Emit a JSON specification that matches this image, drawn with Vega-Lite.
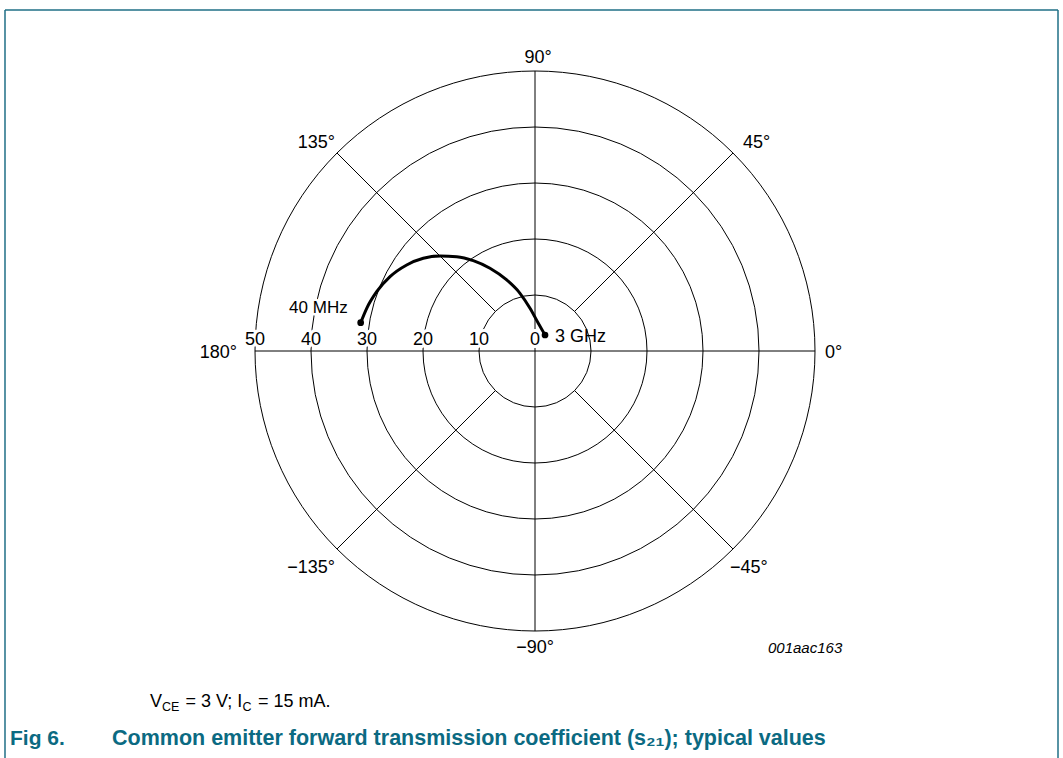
{
  "$schema": "https://vega.github.io/schema/vega-lite/v6.json",
  "width": 1063,
  "height": 758,
  "padding": 0,
  "autosize": {"type": "none"},
  "background": "white",
  "config": {"view": {"stroke": null}, "text": {"font": "Liberation Sans", "fontSize": 18, "color": "black"}},
  "datasets": {
    "one": [{}],
    "rings": [{"r": 10}, {"r": 20}, {"r": 30}, {"r": 40}, {"r": 50}],
    "spokes": [
      {"x": -50, "y": 0, "x2": 50, "y2": 0},
      {"x": 0, "y": -50, "x2": 0, "y2": 50},
      {"x": 7.0711, "y": 7.0711, "x2": 35.3553, "y2": 35.3553},
      {"x": -7.0711, "y": 7.0711, "x2": -35.3553, "y2": 35.3553},
      {"x": 7.0711, "y": -7.0711, "x2": 35.3553, "y2": -35.3553},
      {"x": -7.0711, "y": -7.0711, "x2": -35.3553, "y2": -35.3553}
    ],
    "angles": [
      {"ang": 0, "label": "0°"}, {"ang": 45, "label": "45°"}, {"ang": 90, "label": "90°"},
      {"ang": 135, "label": "135°"}, {"ang": 180, "label": "180°"}, {"ang": -135, "label": "−135°"},
      {"ang": -90, "label": "−90°"}, {"ang": -45, "label": "−45°"}
    ],
    "mags": [{"m": 0}, {"m": 10}, {"m": 20}, {"m": 30}, {"m": 40}, {"m": 50}],
    "s21": [
      {"re": -31.13, "im": 5.05, "f": "40 MHz"},
      {"re": -30.05, "im": 7.63},
      {"re": -28.27, "im": 10.59},
      {"re": -25.89, "im": 13.27},
      {"re": -22.91, "im": 15.36},
      {"re": -19.95, "im": 16.55},
      {"re": -16.96, "im": 16.96},
      {"re": -13.98, "im": 16.84},
      {"re": -11.02, "im": 16.13},
      {"re": -8.04, "im": 14.77},
      {"re": -5.05, "im": 12.68},
      {"re": -2.68, "im": 10.30},
      {"re": -0.89, "im": 7.63},
      {"re": 0.59, "im": 4.95},
      {"re": 1.79, "im": 2.86, "f": "3 GHz"}
    ]
  },
  "layer": [
    {
      "data": {"name": "rings"},
      "mark": {"type": "arc", "theta": 0, "theta2": 6.2832, "fillOpacity": 0, "stroke": "black", "strokeWidth": 1},
      "encoding": {
        "radius": {"field": "r", "type": "quantitative", "stack": null, "scale": {"type": "linear", "domain": [0, 50], "range": [0, 280], "zero": true, "nice": false}},
        "x": {"datum": 0, "type": "quantitative", "scale": {"domain": [-95.5357, 94.2857], "nice": false, "zero": false}, "axis": null},
        "y": {"datum": 0, "type": "quantitative", "scale": {"domain": [-72.6786, 62.6786], "nice": false, "zero": false}, "axis": null}
      }
    },
    {
      "data": {"name": "spokes"},
      "mark": {"type": "rule", "color": "black", "strokeWidth": 1},
      "encoding": {
        "x": {"field": "x", "type": "quantitative", "axis": null},
        "y": {"field": "y", "type": "quantitative", "axis": null},
        "x2": {"field": "x2"},
        "y2": {"field": "y2"}
      }
    },
    {
      "data": {"name": "one"},
      "mark": {"type": "rule", "color": "#1f6f86", "strokeWidth": 1.5},
      "encoding": {
        "x": {"datum": -94.643, "type": "quantitative", "axis": null},
        "x2": {"datum": 93.393},
        "y": {"datum": 60.893, "type": "quantitative", "axis": null}
      }
    },
    {
      "data": {"name": "one"},
      "mark": {"type": "rule", "color": "#1f6f86", "strokeWidth": 1.5},
      "encoding": {
        "x": {"datum": -94.643, "type": "quantitative", "axis": null},
        "y": {"datum": 60.893, "type": "quantitative", "axis": null},
        "y2": {"datum": -72.679}
      }
    },
    {
      "data": {"name": "one"},
      "mark": {"type": "rule", "color": "#1f6f86", "strokeWidth": 1.5},
      "encoding": {
        "x": {"datum": 93.393, "type": "quantitative", "axis": null},
        "y": {"datum": 60.893, "type": "quantitative", "axis": null},
        "y2": {"datum": -72.679}
      }
    },
    {
      "data": {"name": "mags"},
      "mark": {"type": "text", "align": "center", "baseline": "alphabetic", "dy": -6, "color": "white", "stroke": "white", "strokeWidth": 6, "strokeJoin": "round"},
      "encoding": {
        "theta": {"datum": 180, "type": "quantitative", "scale": {"domain": [0, 360], "range": [1.5707963, -4.712389]}},
        "radius": {"field": "m", "type": "quantitative", "stack": null},
        "x": {"datum": 0, "type": "quantitative", "axis": null},
        "y": {"datum": 0, "type": "quantitative", "axis": null},
        "text": {"field": "m", "type": "quantitative"}
      }
    },
    {
      "data": {"name": "s21"},
      "transform": [{"filter": "datum.f === '40 MHz'"}],
      "mark": {"type": "text", "align": "right", "baseline": "alphabetic", "dx": -13, "dy": -10, "fontSize": 17, "color": "white", "stroke": "white", "strokeWidth": 5, "strokeJoin": "round"},
      "encoding": {
        "x": {"field": "re", "type": "quantitative", "axis": null},
        "y": {"field": "im", "type": "quantitative", "axis": null},
        "text": {"field": "f"}
      }
    },
    {
      "data": {"name": "s21"},
      "mark": {"type": "line", "color": "black", "strokeWidth": 3, "interpolate": "monotone"},
      "encoding": {
        "x": {"field": "re", "type": "quantitative", "axis": null},
        "y": {"field": "im", "type": "quantitative", "axis": null}
      }
    },
    {
      "data": {"name": "s21"},
      "transform": [{"filter": "isValid(datum.f)"}],
      "mark": {"type": "circle", "color": "black", "opacity": 1, "size": 45},
      "encoding": {
        "x": {"field": "re", "type": "quantitative", "axis": null},
        "y": {"field": "im", "type": "quantitative", "axis": null}
      }
    },
    {
      "data": {"name": "s21"},
      "transform": [{"filter": "datum.f === '40 MHz'"}],
      "mark": {"type": "text", "align": "right", "baseline": "alphabetic", "dx": -13, "dy": -10, "fontSize": 17},
      "encoding": {
        "x": {"field": "re", "type": "quantitative", "axis": null},
        "y": {"field": "im", "type": "quantitative", "axis": null},
        "text": {"field": "f"}
      }
    },
    {
      "data": {"name": "s21"},
      "transform": [{"filter": "datum.f === '3 GHz'"}],
      "mark": {"type": "text", "align": "left", "baseline": "alphabetic", "dx": 10, "dy": 7},
      "encoding": {
        "x": {"field": "re", "type": "quantitative", "axis": null},
        "y": {"field": "im", "type": "quantitative", "axis": null},
        "text": {"field": "f"}
      }
    },
    {
      "data": {"name": "mags"},
      "mark": {"type": "text", "align": "center", "baseline": "alphabetic", "dy": -6},
      "encoding": {
        "theta": {"datum": 180, "type": "quantitative"},
        "radius": {"field": "m", "type": "quantitative", "stack": null},
        "x": {"datum": 0, "type": "quantitative", "axis": null},
        "y": {"datum": 0, "type": "quantitative", "axis": null},
        "text": {"field": "m", "type": "quantitative"}
      }
    },
    {
      "data": {"name": "angles"},
      "transform": [{"filter": "datum.ang == 90"}],
      "mark": {"type": "text", "align": "center", "baseline": "alphabetic", "dx": 3, "dy": -8},
      "encoding": {
        "theta": {"field": "ang", "type": "quantitative", "stack": null},
        "radius": {"datum": 50, "type": "quantitative"},
        "x": {"datum": 0, "type": "quantitative", "axis": null},
        "y": {"datum": 0, "type": "quantitative", "axis": null},
        "text": {"field": "label"}
      }
    },
    {
      "data": {"name": "angles"},
      "transform": [{"filter": "datum.ang == -90"}],
      "mark": {"type": "text", "align": "center", "baseline": "alphabetic", "dx": 0, "dy": 22},
      "encoding": {
        "theta": {"field": "ang", "type": "quantitative", "stack": null},
        "radius": {"datum": 50, "type": "quantitative"},
        "x": {"datum": 0, "type": "quantitative", "axis": null},
        "y": {"datum": 0, "type": "quantitative", "axis": null},
        "text": {"field": "label"}
      }
    },
    {
      "data": {"name": "angles"},
      "transform": [{"filter": "datum.ang == 0"}],
      "mark": {"type": "text", "align": "left", "baseline": "alphabetic", "dx": 10, "dy": 7},
      "encoding": {
        "theta": {"field": "ang", "type": "quantitative", "stack": null},
        "radius": {"datum": 50, "type": "quantitative"},
        "x": {"datum": 0, "type": "quantitative", "axis": null},
        "y": {"datum": 0, "type": "quantitative", "axis": null},
        "text": {"field": "label"}
      }
    },
    {
      "data": {"name": "angles"},
      "transform": [{"filter": "datum.ang == 180"}],
      "mark": {"type": "text", "align": "right", "baseline": "alphabetic", "dx": -18, "dy": 7},
      "encoding": {
        "theta": {"field": "ang", "type": "quantitative", "stack": null},
        "radius": {"datum": 50, "type": "quantitative"},
        "x": {"datum": 0, "type": "quantitative", "axis": null},
        "y": {"datum": 0, "type": "quantitative", "axis": null},
        "text": {"field": "label"}
      }
    },
    {
      "data": {"name": "angles"},
      "transform": [{"filter": "datum.ang == 45"}],
      "mark": {"type": "text", "align": "left", "baseline": "alphabetic", "dx": 10, "dy": -5},
      "encoding": {
        "theta": {"field": "ang", "type": "quantitative", "stack": null},
        "radius": {"datum": 50, "type": "quantitative"},
        "x": {"datum": 0, "type": "quantitative", "axis": null},
        "y": {"datum": 0, "type": "quantitative", "axis": null},
        "text": {"field": "label"}
      }
    },
    {
      "data": {"name": "angles"},
      "transform": [{"filter": "datum.ang == 135"}],
      "mark": {"type": "text", "align": "right", "baseline": "alphabetic", "dx": -2, "dy": -5},
      "encoding": {
        "theta": {"field": "ang", "type": "quantitative", "stack": null},
        "radius": {"datum": 50, "type": "quantitative"},
        "x": {"datum": 0, "type": "quantitative", "axis": null},
        "y": {"datum": 0, "type": "quantitative", "axis": null},
        "text": {"field": "label"}
      }
    },
    {
      "data": {"name": "angles"},
      "transform": [{"filter": "datum.ang == -45"}],
      "mark": {"type": "text", "align": "left", "baseline": "alphabetic", "dx": -3, "dy": 24},
      "encoding": {
        "theta": {"field": "ang", "type": "quantitative", "stack": null},
        "radius": {"datum": 50, "type": "quantitative"},
        "x": {"datum": 0, "type": "quantitative", "axis": null},
        "y": {"datum": 0, "type": "quantitative", "axis": null},
        "text": {"field": "label"}
      }
    },
    {
      "data": {"name": "angles"},
      "transform": [{"filter": "datum.ang == -135"}],
      "mark": {"type": "text", "align": "right", "baseline": "alphabetic", "dx": -2, "dy": 24},
      "encoding": {
        "theta": {"field": "ang", "type": "quantitative", "stack": null},
        "radius": {"datum": 50, "type": "quantitative"},
        "x": {"datum": 0, "type": "quantitative", "axis": null},
        "y": {"datum": 0, "type": "quantitative", "axis": null},
        "text": {"field": "label"}
      }
    },
    {
      "data": {"name": "one"},
      "mark": {"type": "text", "align": "left", "baseline": "alphabetic", "fontSize": 15, "fontStyle": "italic"},
      "encoding": {
        "x": {"datum": 41.607, "type": "quantitative", "axis": null},
        "y": {"datum": -53.929, "type": "quantitative", "axis": null},
        "text": {"value": "001aac163"}
      }
    },
    {
      "data": {"name": "one"},
      "mark": {"type": "text", "align": "left", "baseline": "alphabetic"},
      "encoding": {
        "x": {"datum": -68.75, "type": "quantitative", "axis": null},
        "y": {"datum": -63.571, "type": "quantitative", "axis": null},
        "text": {"value": "V"}
      }
    },
    {
      "data": {"name": "one"},
      "mark": {"type": "text", "align": "left", "baseline": "alphabetic", "fontSize": 12.5},
      "encoding": {
        "x": {"datum": -66.607, "type": "quantitative", "axis": null},
        "y": {"datum": -64.286, "type": "quantitative", "axis": null},
        "text": {"value": "CE"}
      }
    },
    {
      "data": {"name": "one"},
      "mark": {"type": "text", "align": "left", "baseline": "alphabetic"},
      "encoding": {
        "x": {"datum": -62.429, "type": "quantitative", "axis": null},
        "y": {"datum": -63.571, "type": "quantitative", "axis": null},
        "text": {"value": "= 3 V; I"}
      }
    },
    {
      "data": {"name": "one"},
      "mark": {"type": "text", "align": "left", "baseline": "alphabetic", "fontSize": 12.5},
      "encoding": {
        "x": {"datum": -52.232, "type": "quantitative", "axis": null},
        "y": {"datum": -64.286, "type": "quantitative", "axis": null},
        "text": {"value": "C"}
      }
    },
    {
      "data": {"name": "one"},
      "mark": {"type": "text", "align": "left", "baseline": "alphabetic"},
      "encoding": {
        "x": {"datum": -49.464, "type": "quantitative", "axis": null},
        "y": {"datum": -63.571, "type": "quantitative", "axis": null},
        "text": {"value": "= 15 mA."}
      }
    },
    {
      "data": {"name": "one"},
      "mark": {"type": "text", "align": "left", "baseline": "alphabetic", "fontSize": 21, "fontWeight": "bold", "color": "#0b6a82"},
      "encoding": {
        "x": {"datum": -93.75, "type": "quantitative", "axis": null},
        "y": {"datum": -70.357, "type": "quantitative", "axis": null},
        "text": {"value": "Fig 6."}
      }
    },
    {
      "data": {"name": "one"},
      "mark": {"type": "text", "align": "left", "baseline": "alphabetic", "fontSize": 21.5, "fontWeight": "bold", "color": "#0b6a82"},
      "encoding": {
        "x": {"datum": -75.536, "type": "quantitative", "axis": null},
        "y": {"datum": -70.357, "type": "quantitative", "axis": null},
        "text": {"value": "Common emitter forward transmission coefficient (s₂₁); typical values"}
      }
    }
  ]
}
